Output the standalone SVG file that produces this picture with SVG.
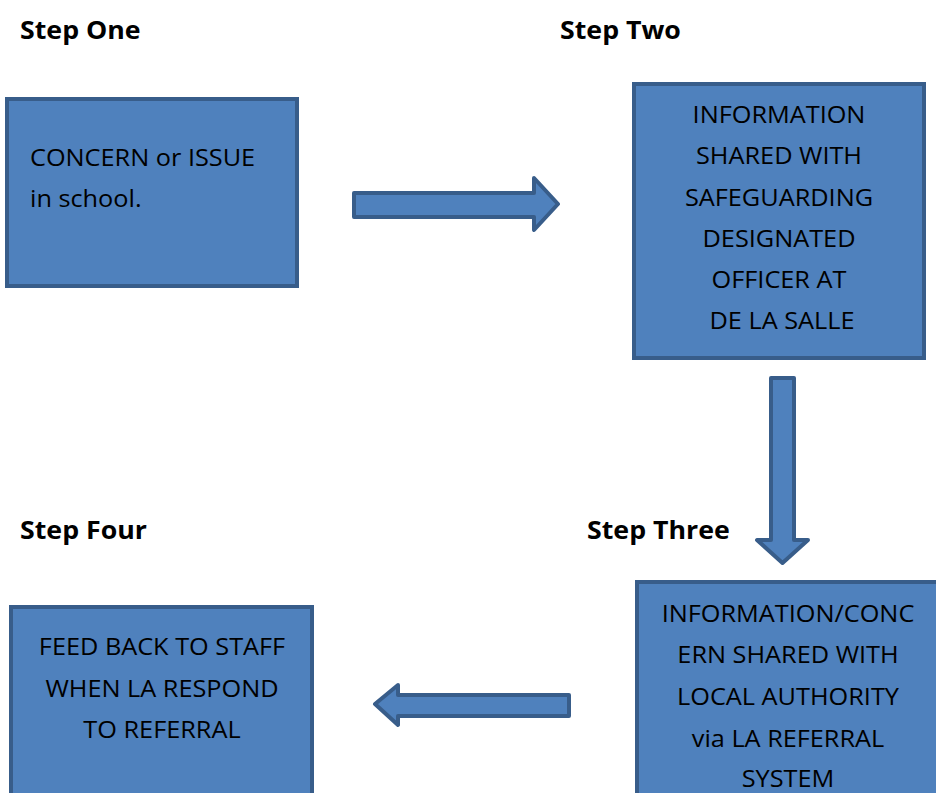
<svg xmlns="http://www.w3.org/2000/svg" width="936" height="793" viewBox="0 0 936 793">
<style>
.box{fill:#4F81BD;stroke:#385D8A;stroke-width:4}
.arrow{fill:#4F81BD;stroke:#385D8A;stroke-width:4;stroke-linejoin:round}
.t{font-family:"Open Sans","Liberation Sans",sans-serif;font-size:23px;fill:#000}
.c{text-anchor:middle}
.step{font-family:"Open Sans","Liberation Sans",sans-serif;font-size:25px;font-weight:bold;fill:#000}
</style>
<rect width="936" height="793" fill="#fff"/>
<text class="step" transform="translate(20,39) scale(1.07,1)">Step One</text>
<text class="step" transform="translate(560,39) scale(1.07,1)">Step Two</text>
<text class="step" transform="translate(587,539) scale(1.07,1)">Step Three</text>
<text class="step" transform="translate(20,539) scale(1.07,1)">Step Four</text>
<g id="step1">
<rect class="box" x="7" y="99" width="290" height="187"/>
<text class="t" transform="translate(30,166) scale(1.1,1)">CONCERN or ISSUE</text>
<text class="t" transform="translate(30,207) scale(1.1,1)">in school.</text>
</g>
<g id="step2">
<rect class="box" x="634" y="84" width="290" height="274"/>
<text class="t c" transform="translate(779,123) scale(1.1,1)">INFORMATION</text>
<text class="t c" transform="translate(779,164) scale(1.1,1)">SHARED WITH</text>
<text class="t c" transform="translate(779,206) scale(1.1,1)">SAFEGUARDING</text>
<text class="t c" transform="translate(779,247) scale(1.1,1)">DESIGNATED</text>
<text class="t c" transform="translate(779,288) scale(1.1,1)">OFFICER AT</text>
<text class="t c" transform="translate(782,329) scale(1.1,1)">DE LA SALLE</text>
</g>
<g id="step3">
<rect class="box" x="637" y="582" width="310" height="230"/>
<text class="t c" transform="translate(788,622) scale(1.1,1)">INFORMATION/CONC</text>
<text class="t c" transform="translate(788,663) scale(1.1,1)">ERN SHARED WITH</text>
<text class="t c" transform="translate(788,705) scale(1.1,1)">LOCAL AUTHORITY</text>
<text class="t c" transform="translate(788,747) scale(1.1,1)">via LA REFERRAL</text>
<text class="t c" transform="translate(788,787) scale(1.1,1)">SYSTEM</text>
</g>
<g id="step4">
<rect class="box" x="11" y="607" width="301" height="200"/>
<text class="t c" transform="translate(162,655) scale(1.1,1)">FEED BACK TO STAFF</text>
<text class="t c" transform="translate(162,697) scale(1.1,1)">WHEN LA RESPOND</text>
<text class="t c" transform="translate(162,738) scale(1.1,1)">TO REFERRAL</text>
</g>
<g id="connectors">
<path class="arrow" d="M354,193 L534,193 L534,178 L558,204 L534,230 L534,217 L354,217 Z"/>
<path class="arrow" d="M771,378 L794,378 L794,540 L808,540 L782.5,563 L757,540 L771,540 Z"/>
<path class="arrow" d="M569,695 L398,695 L398,685 L375,704 L398,725 L398,716 L569,716 Z"/>
</g>
</svg>
